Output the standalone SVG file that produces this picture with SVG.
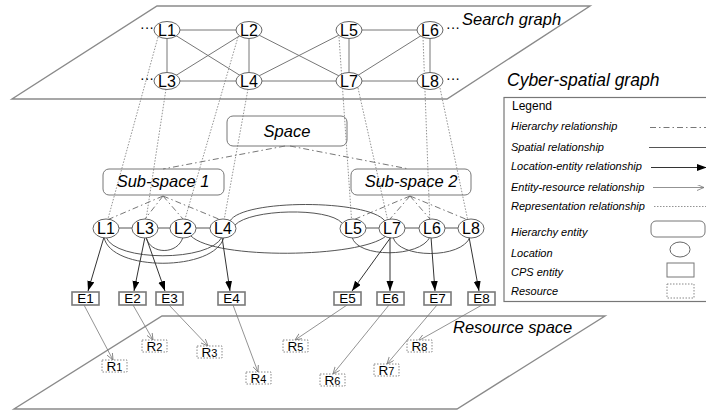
<svg xmlns="http://www.w3.org/2000/svg" width="706" height="410" viewBox="0 0 706 410">
<defs>
<style>
text{font-family:"Liberation Sans",Arial,sans-serif;fill:#000}
.it{font-style:italic}
.plane{fill:none;stroke:#8a8a8a;stroke-width:1.4}
.sg{stroke:#777;stroke-width:1;fill:none}
.loc{fill:#fff;stroke:#666;stroke-width:1}
.lt{font-size:16px;text-anchor:middle}
.hent{fill:none;stroke:#777;stroke-width:1}
.hier{stroke:#777;stroke-width:1;stroke-dasharray:6 3 1.5 3;fill:none}
.rep{stroke:#777;stroke-width:0.8;stroke-dasharray:1.5 1.5;fill:none}
.spat{stroke:#555;stroke-width:1;fill:none}
.le{stroke:#333;stroke-width:1;fill:none;marker-end:url(#fa)}
.er{stroke:#777;stroke-width:0.8;fill:none;marker-end:url(#oa)}
.ent{fill:#fff;stroke:#7a7a7a;stroke-width:1.6}
.et{font-size:13.5px;text-anchor:middle}
.res{fill:#fff;stroke:#888;stroke-width:1;stroke-dasharray:1.5 1.5}
.rt{font-size:13.5px;text-anchor:middle}
.lg{font-size:11px}
</style>
<marker id="fa" markerUnits="userSpaceOnUse" markerWidth="11" markerHeight="8" refX="10" refY="3.5" orient="auto">
<path d="M0,0 L10,3.5 L0,7 z" fill="#000"/>
</marker>
<marker id="oa" markerUnits="userSpaceOnUse" markerWidth="9" markerHeight="8" refX="7" refY="3" orient="auto">
<path d="M0,0 L7,3 L0,6" fill="none" stroke="#777" stroke-width="0.8"/>
</marker>
</defs>

<g id="planes">
<path class="plane" d="M157,6 L590,6 L447,99 L12,99 Z"/>
<path class="plane" d="M162,316 L605,316 L457,409 L14,409 Z"/>
</g>

<g id="titles">
<text class="it" x="462" y="25" font-size="16.5">Search graph</text>
<text class="it" x="507" y="86" font-size="17.5">Cyber-spatial graph</text>
<text class="it" x="453" y="333" font-size="16.5">Resource space</text>
</g>

<g id="connectors">
<line class="sg" x1="167" y1="30" x2="249" y2="30"/>
<line class="sg" x1="167" y1="30" x2="167" y2="81"/>
<line class="sg" x1="167" y1="30" x2="249" y2="81"/>
<line class="sg" x1="167" y1="81" x2="249" y2="30"/>
<line class="sg" x1="167" y1="81" x2="249" y2="81"/>
<line class="sg" x1="249" y1="30" x2="249" y2="81"/>
<line class="sg" x1="249" y1="30" x2="349" y2="81"/>
<line class="sg" x1="249" y1="81" x2="349" y2="30"/>
<line class="sg" x1="249" y1="81" x2="349" y2="81"/>
<line class="sg" x1="349" y1="30" x2="430" y2="30"/>
<line class="sg" x1="349" y1="30" x2="349" y2="81"/>
<line class="sg" x1="349" y1="81" x2="430" y2="30"/>
<line class="sg" x1="349" y1="81" x2="430" y2="81"/>
<line class="sg" x1="430" y1="30" x2="430" y2="81"/>
<line class="rep" x1="158" y1="37" x2="106" y2="226"/>
<line class="rep" x1="166" y1="89" x2="145" y2="226"/>
<line class="rep" x1="238" y1="37" x2="183" y2="226"/>
<line class="rep" x1="248" y1="89" x2="223" y2="226"/>
<line class="rep" x1="339" y1="37" x2="352" y2="226"/>
<line class="rep" x1="358" y1="88" x2="389" y2="226"/>
<line class="rep" x1="423" y1="37" x2="430" y2="226"/>
<line class="rep" x1="440" y1="88" x2="469" y2="226"/>
<line class="hier" x1="285" y1="146" x2="163" y2="169"/>
<line class="hier" x1="290" y1="146" x2="409" y2="169"/>
<line class="hier" x1="163" y1="196" x2="107" y2="220"/>
<line class="hier" x1="163" y1="196" x2="145" y2="219"/>
<line class="hier" x1="163" y1="196" x2="183" y2="219"/>
<line class="hier" x1="163" y1="196" x2="221" y2="220"/>
<line class="hier" x1="410" y1="196" x2="353" y2="220"/>
<line class="hier" x1="410" y1="196" x2="390" y2="219"/>
<line class="hier" x1="410" y1="196" x2="430" y2="219"/>
<line class="hier" x1="410" y1="196" x2="468" y2="220"/>
<line class="spat" x1="106" y1="228" x2="145" y2="228"/>
<line class="spat" x1="145" y1="228" x2="183" y2="228"/>
<line class="spat" x1="183" y1="228" x2="223" y2="228"/>
<line class="spat" x1="353" y1="228" x2="392" y2="228"/>
<line class="spat" x1="392" y1="228" x2="432" y2="228"/>
<line class="spat" x1="432" y1="228" x2="471" y2="228"/>
<path class="spat" d="M230,221 C242,199 368,199 385,221"/>
<path class="spat" d="M235,225 C250,209 328,207 342,223"/>
<path class="spat" d="M106,237 C115,262 210,262 222,237"/>
<path class="spat" d="M104,237 C110,272 215,272 224,237"/>
<path class="spat" d="M146,237 C150,255 178,255 183,237"/>
<path class="spat" d="M191,236 C215,260 360,258 386,236"/>
<path class="spat" d="M352,237 C357,258 420,258 430,237"/>
<path class="spat" d="M393,237 C398,259 462,259 470,237"/>
<line class="le" x1="104" y1="237" x2="88" y2="291"/>
<line class="le" x1="145" y1="237" x2="134" y2="291"/>
<line class="le" x1="146" y1="237" x2="165" y2="291"/>
<line class="le" x1="222" y1="237" x2="230" y2="291"/>
<line class="le" x1="391" y1="237" x2="352" y2="291"/>
<line class="le" x1="390" y1="237" x2="390" y2="291"/>
<line class="le" x1="431" y1="237" x2="435" y2="291"/>
<line class="le" x1="469" y1="237" x2="479" y2="291"/>
<line class="er" x1="84" y1="305" x2="113" y2="360"/>
<line class="er" x1="133" y1="305" x2="153" y2="340"/>
<line class="er" x1="169" y1="305" x2="208" y2="346"/>
<line class="er" x1="233" y1="305" x2="258" y2="372"/>
<line class="er" x1="347" y1="305" x2="295" y2="340"/>
<line class="er" x1="389" y1="305" x2="333" y2="374"/>
<line class="er" x1="437" y1="305" x2="387" y2="364"/>
<line class="er" x1="482" y1="305" x2="418" y2="341"/>
</g>

<g id="sg-L1"><ellipse class="loc" cx="167" cy="30" rx="13" ry="8.5"/><text class="lt" x="167" y="35.8">L1</text></g>
<g id="sg-L2"><ellipse class="loc" cx="249" cy="30" rx="13" ry="8.5"/><text class="lt" x="249" y="35.8">L2</text></g>
<g id="sg-L3"><ellipse class="loc" cx="167" cy="81" rx="13" ry="8.5"/><text class="lt" x="167" y="86.8">L3</text></g>
<g id="sg-L4"><ellipse class="loc" cx="249" cy="81" rx="13" ry="8.5"/><text class="lt" x="249" y="86.8">L4</text></g>
<g id="sg-L5"><ellipse class="loc" cx="349" cy="30" rx="13" ry="8.5"/><text class="lt" x="349" y="35.8">L5</text></g>
<g id="sg-L6"><ellipse class="loc" cx="430" cy="30" rx="13" ry="8.5"/><text class="lt" x="430" y="35.8">L6</text></g>
<g id="sg-L7"><ellipse class="loc" cx="349" cy="81" rx="13" ry="8.5"/><text class="lt" x="349" y="86.8">L7</text></g>
<g id="sg-L8"><ellipse class="loc" cx="430" cy="81" rx="13" ry="8.5"/><text class="lt" x="430" y="86.8">L8</text></g>
<g id="sg-dots">
<text x="140" y="32" font-size="14">···</text>
<text x="140" y="83" font-size="14">···</text>
<text x="446" y="32" font-size="14">···</text>
<text x="446" y="83" font-size="14">···</text>
</g>

<g id="space"><rect class="hent" x="227" y="116" width="120" height="30" rx="6"/><text class="it" x="287" y="137" font-size="16.5" text-anchor="middle">Space</text></g>
<g id="subspace1"><rect class="hent" x="103" y="169" width="121" height="26" rx="6"/><text class="it" x="163" y="187" font-size="16.5" text-anchor="middle">Sub-space 1</text></g>
<g id="subspace2"><rect class="hent" x="351" y="169" width="120" height="26" rx="6"/><text class="it" x="411" y="187" font-size="16.5" text-anchor="middle">Sub-space 2</text></g>

<g id="L1"><ellipse class="loc" cx="106" cy="228.5" rx="13" ry="9.5"/><text class="lt" x="106" y="234.3">L1</text></g>
<g id="L3"><ellipse class="loc" cx="145" cy="228.5" rx="13" ry="9.5"/><text class="lt" x="145" y="234.3">L3</text></g>
<g id="L2"><ellipse class="loc" cx="183" cy="228.5" rx="13" ry="9.5"/><text class="lt" x="183" y="234.3">L2</text></g>
<g id="L4"><ellipse class="loc" cx="223" cy="228.5" rx="13" ry="9.5"/><text class="lt" x="223" y="234.3">L4</text></g>
<g id="L5"><ellipse class="loc" cx="353" cy="228.5" rx="13" ry="9.5"/><text class="lt" x="353" y="234.3">L5</text></g>
<g id="L7"><ellipse class="loc" cx="392" cy="228.5" rx="13" ry="9.5"/><text class="lt" x="392" y="234.3">L7</text></g>
<g id="L6"><ellipse class="loc" cx="432" cy="228.5" rx="13" ry="9.5"/><text class="lt" x="432" y="234.3">L6</text></g>
<g id="L8"><ellipse class="loc" cx="471" cy="228.5" rx="13" ry="9.5"/><text class="lt" x="471" y="234.3">L8</text></g>

<g id="E1"><rect class="ent" x="72" y="292" width="27" height="13"/><text class="et" x="85.5" y="303.3">E1</text></g>
<g id="E2"><rect class="ent" x="119" y="292" width="27" height="13"/><text class="et" x="132.5" y="303.3">E2</text></g>
<g id="E3"><rect class="ent" x="156" y="292" width="27" height="13"/><text class="et" x="169.5" y="303.3">E3</text></g>
<g id="E4"><rect class="ent" x="218" y="292" width="27" height="13"/><text class="et" x="231.5" y="303.3">E4</text></g>
<g id="E5"><rect class="ent" x="334" y="292" width="27" height="13"/><text class="et" x="347.5" y="303.3">E5</text></g>
<g id="E6"><rect class="ent" x="377" y="292" width="27" height="13"/><text class="et" x="390.5" y="303.3">E6</text></g>
<g id="E7"><rect class="ent" x="424" y="292" width="27" height="13"/><text class="et" x="437.5" y="303.3">E7</text></g>
<g id="E8"><rect class="ent" x="468" y="292" width="27" height="13"/><text class="et" x="481.5" y="303.3">E8</text></g>

<g id="R1"><rect class="res" x="102" y="360" width="25" height="12"/><text class="rt" x="114.5" y="370.8">R<tspan font-size="11">1</tspan></text></g>
<g id="R2"><rect class="res" x="142" y="340" width="25" height="12"/><text class="rt" x="154.5" y="350.8">R<tspan font-size="11">2</tspan></text></g>
<g id="R3"><rect class="res" x="197" y="346" width="25" height="12"/><text class="rt" x="209.5" y="356.8">R<tspan font-size="11">3</tspan></text></g>
<g id="R4"><rect class="res" x="246" y="372" width="25" height="12"/><text class="rt" x="258.5" y="382.8">R<tspan font-size="11">4</tspan></text></g>
<g id="R5"><rect class="res" x="283" y="340" width="25" height="12"/><text class="rt" x="295.5" y="350.8">R<tspan font-size="11">5</tspan></text></g>
<g id="R6"><rect class="res" x="320" y="374" width="25" height="12"/><text class="rt" x="332.5" y="384.8">R<tspan font-size="11">6</tspan></text></g>
<g id="R7"><rect class="res" x="374" y="364" width="25" height="12"/><text class="rt" x="386.5" y="374.8">R<tspan font-size="11">7</tspan></text></g>
<g id="R8"><rect class="res" x="407" y="340" width="25" height="12"/><text class="rt" x="419.5" y="350.8">R<tspan font-size="11">8</tspan></text></g>

<g id="legend">
<rect x="504" y="97.5" width="210" height="204" fill="#fff" stroke="#777" stroke-width="1.2"/>
<text x="512" y="109.5" font-size="12">Legend</text>
<text class="lg it" x="511" y="130">Hierarchy relationship</text>
<text class="lg it" x="511" y="150.5">Spatial relationship</text>
<text class="lg it" x="511" y="169.5">Location-entity relationship</text>
<text class="lg it" x="511" y="190.5">Entity-resource relationship</text>
<text class="lg it" x="511" y="209.5">Representation relationship</text>
<text class="lg it" x="511" y="235.5">Hierarchy entity</text>
<text class="lg it" x="511" y="256.5">Location</text>
<text class="lg it" x="511" y="275.5">CPS entity</text>
<text class="lg it" x="511" y="295">Resource</text>
<line class="hier" x1="650" y1="127.5" x2="706" y2="127.5"/>
<line class="spat" x1="649" y1="147.5" x2="706" y2="147.5"/>
<line class="le" x1="651" y1="167.5" x2="707" y2="167.5"/>
<line class="er" x1="653" y1="187.5" x2="704" y2="187.5"/>
<line class="rep" x1="654" y1="206.5" x2="706" y2="206.5"/>
<rect class="hent" x="651" y="221" width="54" height="16" rx="5"/>
<ellipse class="loc" cx="680" cy="249.5" rx="10" ry="7.5"/>
<rect x="667" y="263" width="27" height="14" fill="#fff" stroke="#777" stroke-width="1"/>
<rect class="res" x="667" y="284" width="27" height="14"/>
</g>
</svg>
